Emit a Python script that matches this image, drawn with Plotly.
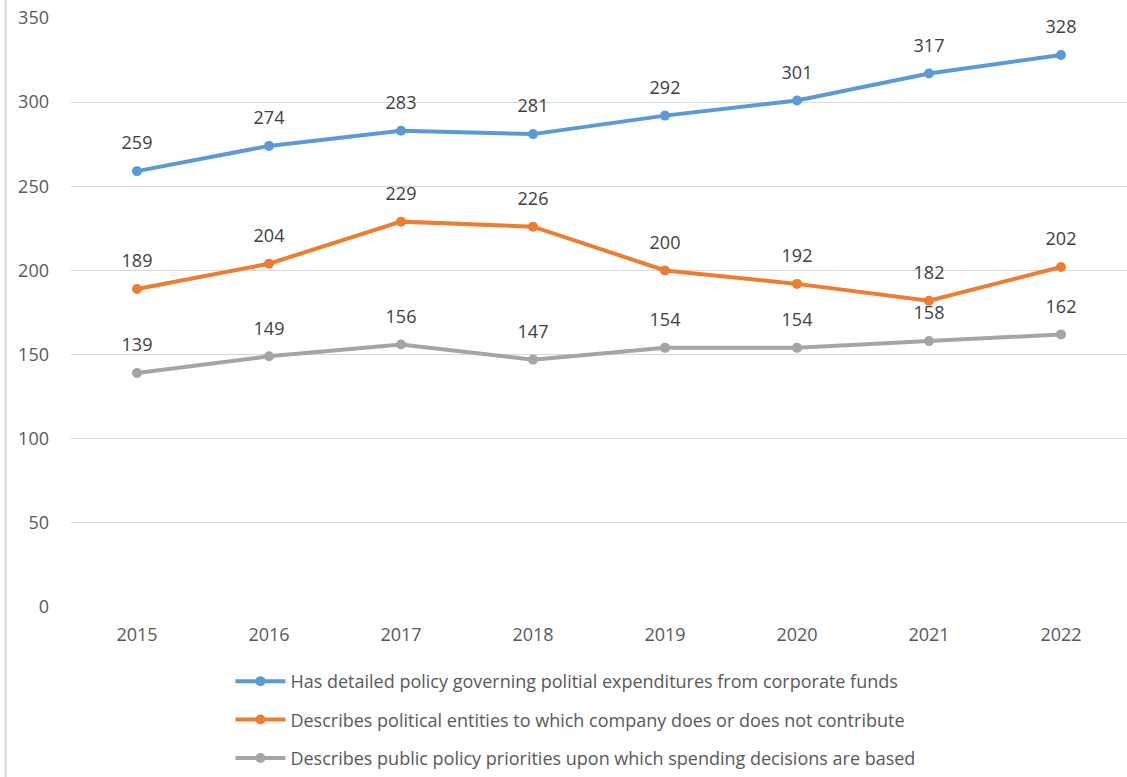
import plotly.graph_objects as go

years = ["2015", "2016", "2017", "2018", "2019", "2020", "2021", "2022"]
policy = [259, 274, 283, 281, 292, 301, 317, 328]
entities = [189, 204, 229, 226, 200, 192, 182, 202]
priorities = [139, 149, 156, 147, 154, 154, 158, 162]

names = [
    "Has detailed policy governing politial expenditures from corporate funds",
    "Describes political entities to which company does or does not contribute",
    "Describes public policy priorities upon which spending decisions are based",
]
colors = ["#5B9BD5", "#ED7D31", "#A5A5A5"]
series = [policy, entities, priorities]

FONT = "Open Sans"
FS = 18
fig = go.Figure()
for i, (name, vals, col) in enumerate(zip(names, series, colors)):
    fig.add_trace(go.Scatter(
        x=years, y=vals, name=name, mode="lines+markers",
        line=dict(color=col, width=4),
        marker=dict(color=col, size=10),
        legendgroup=str(i),
    ))
for i, vals in enumerate(series):
    fig.add_trace(go.Scatter(
        x=years, y=vals, mode="markers+text",
        marker=dict(size=26, opacity=0),
        text=[str(v) for v in vals], textposition="top center",
        textfont=dict(family=FONT, size=FS, color="#404040"),
        showlegend=False, hoverinfo="skip",
    ))

fig.update_layout(
    width=1127, height=777,
    margin=dict(l=71, r=0, t=18, b=162),
    paper_bgcolor="white", plot_bgcolor="white",
    showlegend=True,
    legend=dict(
        orientation="v", x=0.151, xanchor="left", y=-0.095, yanchor="top",
        font=dict(family=FONT, size=FS, color="#595959"),
        tracegroupgap=12, itemwidth=50,
    ),
    xaxis=dict(
        type="category", showgrid=False, zeroline=False, showline=False,
        tickfont=dict(family=FONT, size=FS, color="#595959"),
        ticks="", range=[-0.5, 7.5], ticklabelstandoff=15,
    ),
    yaxis=dict(
        range=[0, 350], dtick=50, showgrid=True, gridcolor="#D9D9D9", gridwidth=1,
        zeroline=False, showline=False, ticks="",
        tickfont=dict(family=FONT, size=FS, color="#595959"),
        ticklabelstandoff=21,
    ),
    shapes=[dict(type="line", xref="paper", yref="paper",
                 x0=-0.062, x1=-0.062, y0=-0.3, y1=1.05,
                 line=dict(color="#D9D9D9", width=2))],
)

fig.write_html("out.html", config={"displayModeBar": False},
               post_script="document.body.style.margin='0';")
